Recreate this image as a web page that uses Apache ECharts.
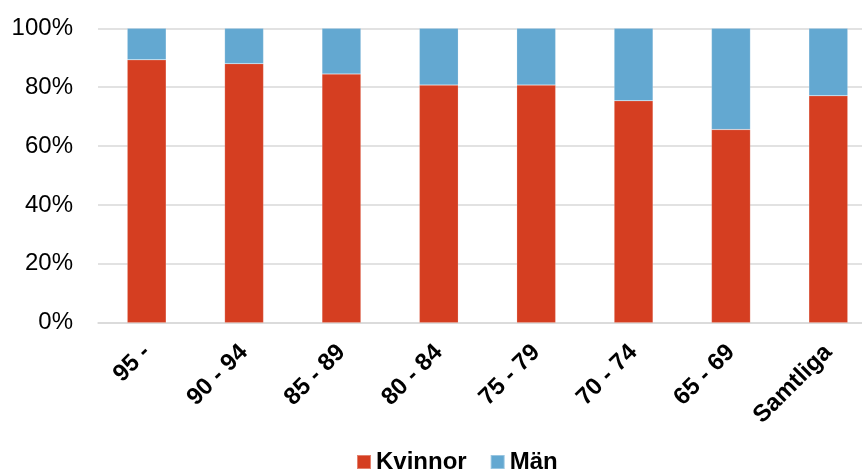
<!DOCTYPE html>
<html>
<head>
<meta charset="utf-8">
<script src="https://cdn.jsdelivr.net/npm/echarts@6/dist/echarts.min.js"></script>
<style>
  html, body { margin: 0; padding: 0; background: #ffffff; overflow: hidden; width: 862px; height: 471px; }
  #chart { width: 880px; height: 471px; }
</style>
</head>
<body>
<div id="chart"></div>
<script>
// Age groups and share of women / men (percent)
const categories = ['95 -', '90 - 94', '85 - 89', '80 - 84', '75 - 79', '70 - 74', '65 - 69', 'Samtliga'];
const kvinnor = [89.3, 88.0, 84.5, 80.7, 80.7, 75.4, 65.6, 77.1];
const man = [10.7, 12.0, 15.5, 19.3, 19.3, 24.6, 34.4, 22.9];
const yTicks = [0, 20, 40, 60, 80, 100];

const FONT = '"Liberation Sans", Arial, sans-serif';
const chart = echarts.init(document.getElementById('chart'), null, { renderer: 'canvas' });

chart.setOption({
  animation: false,
  backgroundColor: '#ffffff',
  grid: { left: 98, right: 3, top: 28.3, bottom: 148.3, containLabel: false },
  legend: {
    left: 351,
    top: 445,
    itemWidth: 14,
    itemHeight: 14,
    itemGap: 23,
    icon: 'rect',
    textStyle: { fontFamily: FONT, fontSize: 24, fontWeight: 'bold', color: '#000000' },
    data: ['Kvinnor', 'Män']
  },
  xAxis: {
    type: 'category',
    data: categories,
    axisLine: { show: true, lineStyle: { color: '#d9d9d9', width: 1.5 } },
    axisTick: { show: false },
    axisLabel: {
      interval: 0,
      rotate: 45,
      margin: 26,
      fontFamily: FONT,
      fontSize: 24,
      fontWeight: 'bold',
      color: '#000000'
    }
  },
  yAxis: {
    type: 'value',
    min: yTicks[0],
    max: yTicks[yTicks.length - 1],
    interval: yTicks[1] - yTicks[0],
    axisLine: { show: false },
    axisTick: { show: false },
    splitLine: { lineStyle: { color: '#d9d9d9', width: 1.5 } },
    axisLabel: {
      margin: 25,
      fontFamily: FONT,
      fontSize: 24,
      color: '#000000',
      formatter: v => v + '%'
    }
  },
  series: [
    {
      name: 'Kvinnor',
      type: 'bar',
      stack: 'total',
      barWidth: '40%',
      data: kvinnor,
      itemStyle: { color: '#d53e21', borderColor: 'rgba(255,255,255,0.35)', borderWidth: 0.5 }
    },
    {
      name: 'Män',
      type: 'bar',
      stack: 'total',
      barWidth: '40%',
      data: man,
      itemStyle: { color: '#63a8d1', borderColor: 'rgba(255,255,255,0.35)', borderWidth: 0.5 }
    }
  ]
});
</script>
</body>
</html>
